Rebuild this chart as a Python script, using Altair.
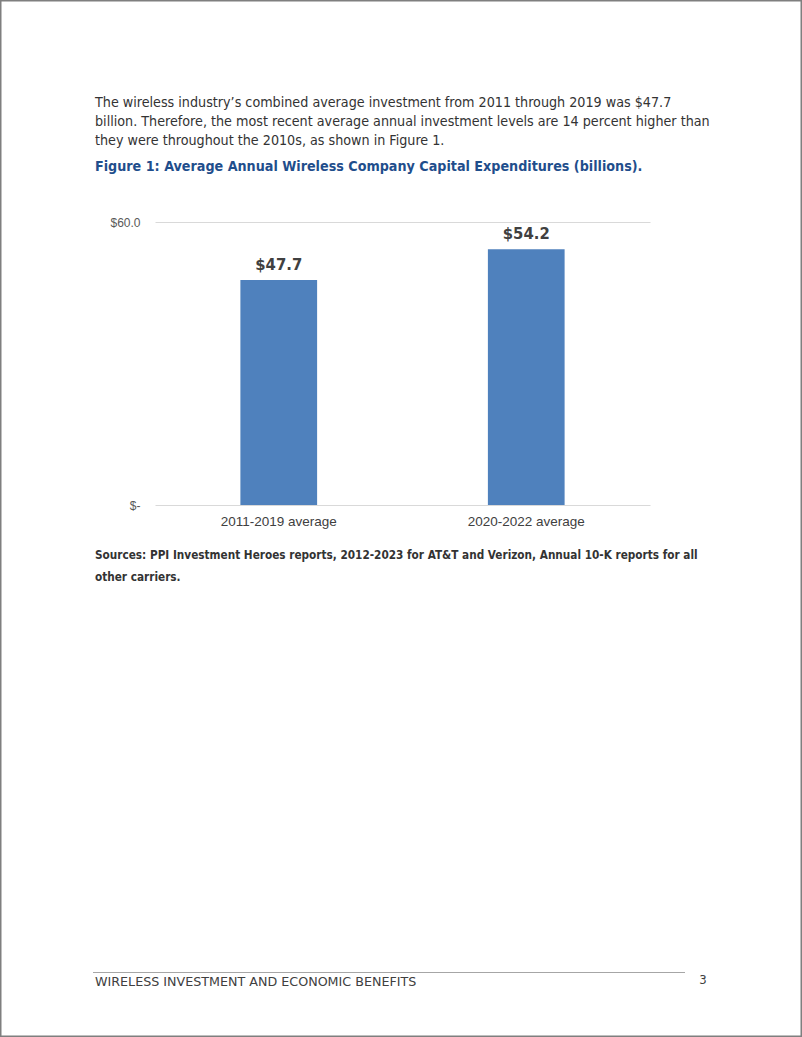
import altair as alt
import pandas as pd

# ---- data ----
categories = ["2011-2019 average", "2020-2022 average"]
values = [47.7, 54.2]
value_labels = ["$47.7", "$54.2"]

body_lines = [
    "The wireless industry\u2019s combined average investment from 2011 through 2019 was $47.7",
    "billion. Therefore, the most recent average annual investment levels are 14 percent higher than",
    "they were throughout the 2010s, as shown in Figure 1.",
]
fig_title = "Figure 1: Average Annual Wireless Company Capital Expenditures (billions)."
source_lines = [
    "Sources: PPI Investment Heroes reports, 2012-2023 for AT&T and Verizon, Annual 10-K reports for all",
    "other carriers.",
]
footer_text = "WIRELESS INVESTMENT AND ECONOMIC BENEFITS"
page_number = "3"

df = pd.DataFrame({"cat": categories, "val": values, "lab": value_labels})

# page geometry
PAGE_W, PAGE_H = 802, 1037
OX, OY = 155, 222          # plot-area origin on the page
PW, PH = 495, 283          # plot area size

def px(x):
    return x - OX

def py(y):
    return y - OY

one = pd.DataFrame({"k": [0]})

bars = alt.Chart(df).mark_bar(color="#4f81bd").encode(
    x=alt.X(
        "cat:N",
        sort=categories,
        title=None,
        scale=alt.Scale(paddingInner=0.69, paddingOuter=0.345),
        axis=alt.Axis(
            labelAngle=0, domain=False, ticks=False, labelFontSize=13.5,
            labelColor="#404040", labelFont="Liberation Sans", labelPadding=9,
            grid=False,
        ),
    ),
    y=alt.Y(
        "val:Q",
        title=None,
        scale=alt.Scale(domain=[0, 60], nice=False),
        axis=alt.Axis(
            values=[0, 60], labelExpr="datum.value == 0 ? '$-' : '$' + format(datum.value, '.1f')",
            domain=False, ticks=False, labelFontSize=12, labelColor="#595959",
            labelFont="Liberation Sans", labelPadding=15, gridColor="#d9d9d9",
            gridWidth=1.2,
        ),
    ),
)

vlabels = alt.Chart(df).mark_text(
    baseline="bottom", dy=-7, fontSize=16.5, fontWeight="bold",
    font="DejaVu Sans Condensed, DejaVu Sans", color="#404040",
).encode(x=alt.X("cat:N", sort=categories), y="val:Q", text="lab:N")

layers = [bars, vlabels]

def txt(s, x, y, size, weight="normal", color="#333333", font="Liberation Sans", align="left"):
    return alt.Chart(one).mark_text(
        text=s, align=align, baseline="middle", fontSize=size, fontWeight=weight,
        color=color, font=font,
    ).encode(x=alt.value(px(x)), y=alt.value(py(y)))

for i, line in enumerate(body_lines):
    layers.append(txt(line, 95, 103 + 19 * i, 14.2, color="#333333",
                      font="DejaVu Sans Condensed, Liberation Sans"))

layers.append(txt(fig_title, 95, 167, 14.2, weight="bold", color="#1f4e8c",
                  font="DejaVu Sans Condensed, DejaVu Sans"))

for i, line in enumerate(source_lines):
    layers.append(txt(line, 95, 555 + 21.5 * i, 11.7, weight="bold", color="#333333",
                      font="DejaVu Sans Condensed, DejaVu Sans"))

layers.append(txt(footer_text, 95, 982, 12.7, color="#404040", font="DejaVu Sans"))
layers.append(txt(page_number, 703, 980, 13, color="#404040",
                  font="DejaVu Sans Condensed, DejaVu Sans", align="center"))

# footer rule
layers.append(alt.Chart(one).mark_rule(color="#a6a6a6", strokeWidth=1).encode(
    x=alt.value(px(93)), x2=alt.value(px(685)), y=alt.value(py(972.5))))

# page border
layers.append(alt.Chart(one).mark_rect(fill=None, stroke="#7f7f7f", strokeWidth=1.5).encode(
    x=alt.value(px(0.75)), x2=alt.value(px(PAGE_W - 0.75)),
    y=alt.value(py(0.75)), y2=alt.value(py(PAGE_H - 0.75))))

chart = alt.layer(*layers).properties(
    width=PW, height=PH,
    padding={"left": OX, "top": OY, "right": PAGE_W - OX - PW, "bottom": PAGE_H - OY - PH},
    autosize=alt.AutoSizeParams(type="none"),
    background="white",
).configure_view(stroke=None)

chart.save("out.html", embed_options={"renderer": "svg", "actions": False})
